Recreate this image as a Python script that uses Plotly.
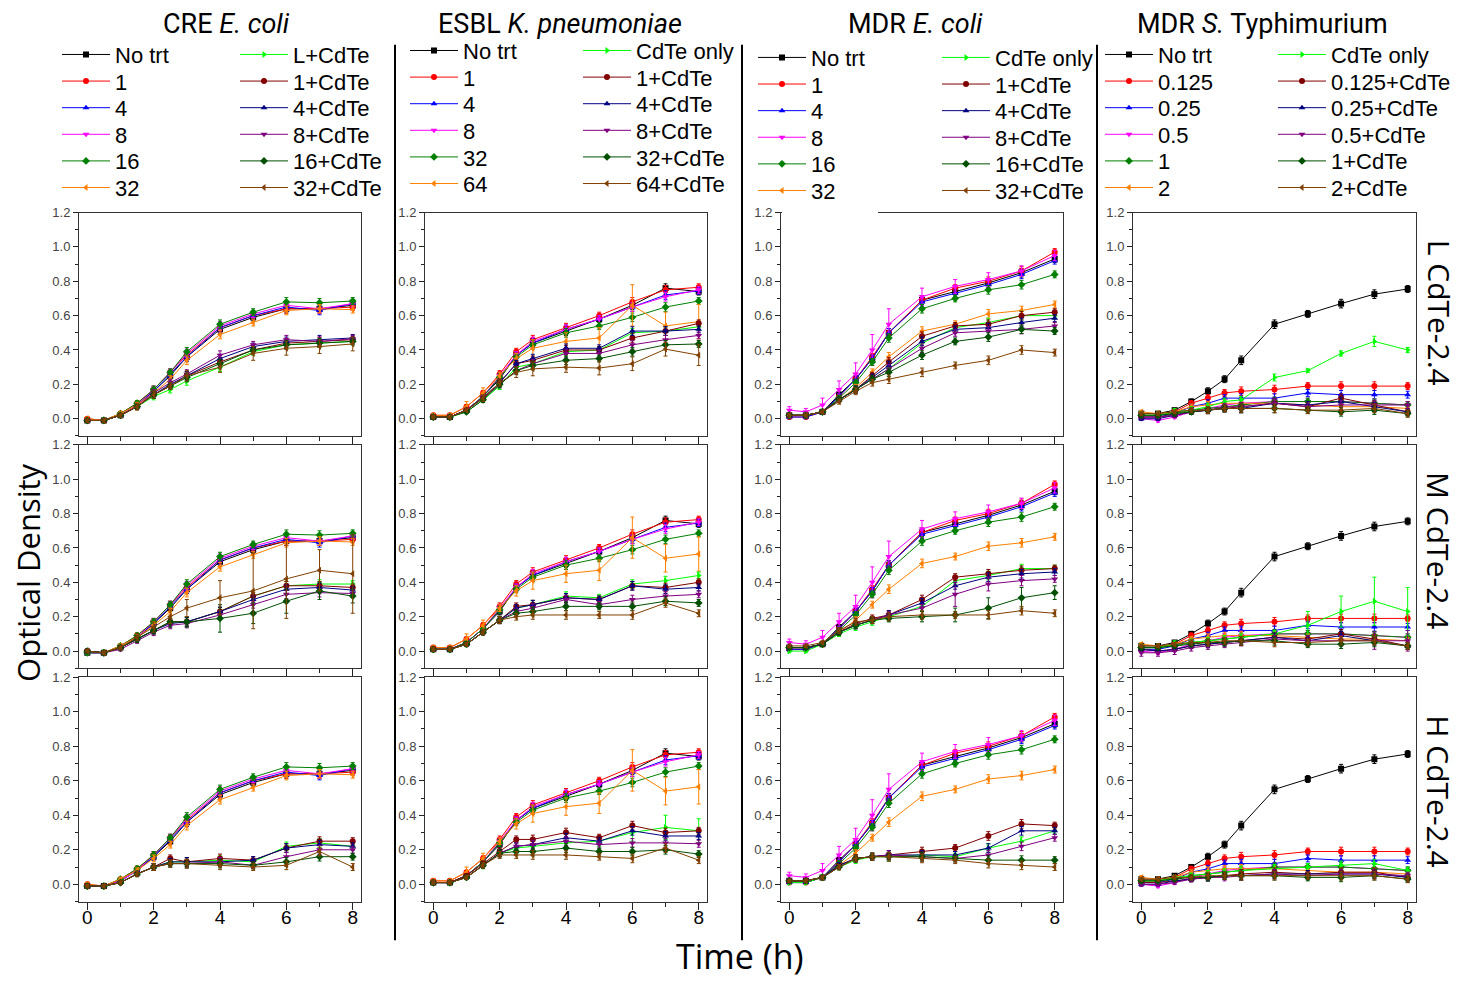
import plotly.graph_objects as go

# ---------------------------------------------------------------- data
TIME_H = [0, 0.5, 1, 1.5, 2, 2.5, 3, 4, 5, 6, 7, 8]

COLUMN_TITLES = ["CRE <i>E. coli</i>", "ESBL <i>K. pneumoniae</i>",
                 "MDR <i>E. coli</i>", "MDR <i>S.</i> Typhimurium"]
ROW_LABELS = ["L CdTe-2.4", "M CdTe-2.4", "H CdTe-2.4"]

# CRE E. coli - antibiotic alone (same curves in every row)
CRE_ABX = {
    "No trt": [-0.01, -0.01, 0.02, 0.08, 0.16, 0.25, 0.36, 0.52, 0.59, 0.64, 0.64, 0.66],
    "1":      [0.00, -0.01, 0.03, 0.09, 0.17, 0.27, 0.37, 0.53, 0.60, 0.64, 0.64, 0.65],
    "4":      [-0.01, -0.01, 0.02, 0.08, 0.16, 0.26, 0.36, 0.53, 0.60, 0.65, 0.63, 0.67],
    "8":      [-0.01, -0.01, 0.02, 0.08, 0.17, 0.27, 0.38, 0.54, 0.61, 0.66, 0.64, 0.67],
    "16":     [-0.01, -0.01, 0.03, 0.09, 0.17, 0.27, 0.39, 0.55, 0.62, 0.68, 0.675, 0.685],
    "32":     [0.00, -0.01, 0.03, 0.08, 0.15, 0.23, 0.34, 0.49, 0.56, 0.63, 0.64, 0.635],
}
CRE_CDTE_L = {
    "L+CdTe":   [-0.01, -0.01, 0.02, 0.07, 0.13, 0.17, 0.22, 0.30, 0.39, 0.43, 0.44, 0.45],
    "1+CdTe":   [-0.01, -0.01, 0.02, 0.07, 0.14, 0.19, 0.25, 0.33, 0.40, 0.44, 0.45, 0.46],
    "4+CdTe":   [-0.01, -0.01, 0.02, 0.07, 0.14, 0.20, 0.25, 0.35, 0.42, 0.45, 0.46, 0.47],
    "8+CdTe":   [-0.01, -0.01, 0.02, 0.07, 0.15, 0.21, 0.26, 0.37, 0.43, 0.46, 0.45, 0.465],
    "16+CdTe":  [-0.01, -0.01, 0.02, 0.07, 0.14, 0.19, 0.24, 0.32, 0.40, 0.43, 0.44, 0.45],
    "32+CdTe":  [-0.01, -0.01, 0.02, 0.07, 0.14, 0.19, 0.25, 0.30, 0.38, 0.41, 0.42, 0.435],
}
CRE_CDTE_M = {
    "L+CdTe":   [0.00, -0.01, 0.02, 0.07, 0.12, 0.17, 0.17, 0.23, 0.32, 0.38, 0.39, 0.39],
    "1+CdTe":   [0.00, -0.01, 0.02, 0.07, 0.12, 0.17, 0.17, 0.23, 0.32, 0.38, 0.38, 0.37],
    "4+CdTe":   [0.00, -0.01, 0.02, 0.07, 0.12, 0.16, 0.17, 0.23, 0.30, 0.36, 0.37, 0.355],
    "8+CdTe":   [0.00, -0.01, 0.01, 0.06, 0.11, 0.15, 0.16, 0.21, 0.27, 0.33, 0.34, 0.335],
    "16+CdTe":  [0.00, -0.01, 0.02, 0.07, 0.12, 0.17, 0.17, 0.19, 0.22, 0.29, 0.35, 0.32],
    "32+CdTe":  [0.00, -0.01, 0.02, 0.08, 0.14, 0.20, 0.25, 0.31, 0.35, 0.42, 0.47, 0.45],
}
CRE_CDTE_H = {
    "L+CdTe":   [-0.01, -0.01, 0.01, 0.06, 0.10, 0.13, 0.13, 0.14, 0.13, 0.22, 0.24, 0.22],
    "1+CdTe":   [-0.01, -0.01, 0.01, 0.06, 0.10, 0.15, 0.13, 0.15, 0.14, 0.21, 0.25, 0.25],
    "4+CdTe":   [-0.01, -0.01, 0.01, 0.06, 0.10, 0.13, 0.13, 0.13, 0.14, 0.21, 0.23, 0.22],
    "8+CdTe":   [-0.01, -0.01, 0.01, 0.06, 0.10, 0.12, 0.12, 0.13, 0.11, 0.16, 0.20, 0.20],
    "16+CdTe":  [-0.01, -0.01, 0.01, 0.06, 0.10, 0.12, 0.12, 0.12, 0.11, 0.13, 0.16, 0.16],
    "32+CdTe":  [-0.01, -0.01, 0.01, 0.06, 0.10, 0.12, 0.12, 0.11, 0.10, 0.11, 0.19, 0.10],
}

# ESBL K. pneumoniae
KPN_ABX = {
    "No trt": [0.01, 0.01, 0.05, 0.13, 0.23, 0.37, 0.44, 0.51, 0.58, 0.66, 0.76, 0.74],
    "1":      [0.02, 0.02, 0.07, 0.15, 0.26, 0.39, 0.46, 0.53, 0.60, 0.68, 0.75, 0.765],
    "4":      [0.01, 0.01, 0.05, 0.13, 0.24, 0.37, 0.44, 0.52, 0.58, 0.65, 0.72, 0.745],
    "8":      [0.01, 0.01, 0.05, 0.13, 0.25, 0.37, 0.45, 0.52, 0.58, 0.65, 0.71, 0.75],
    "32":     [0.01, 0.01, 0.05, 0.13, 0.24, 0.36, 0.43, 0.50, 0.54, 0.59, 0.65, 0.685],
    "64":     [0.02, 0.02, 0.07, 0.15, 0.25, 0.35, 0.41, 0.45, 0.47, 0.66, 0.54, 0.565],
}
KPN_CDTE_L = {
    "CdTe only": [0.01, 0.01, 0.04, 0.11, 0.19, 0.30, 0.32, 0.39, 0.40, 0.50, 0.51, 0.535],
    "1+CdTe":    [0.01, 0.01, 0.05, 0.12, 0.21, 0.32, 0.34, 0.40, 0.40, 0.47, 0.51, 0.555],
    "4+CdTe":    [0.01, 0.01, 0.05, 0.12, 0.21, 0.32, 0.35, 0.41, 0.41, 0.51, 0.51, 0.52],
    "8+CdTe":    [0.01, 0.01, 0.05, 0.12, 0.20, 0.28, 0.32, 0.38, 0.38, 0.43, 0.46, 0.485],
    "32+CdTe":   [0.01, 0.01, 0.04, 0.11, 0.20, 0.28, 0.31, 0.34, 0.35, 0.39, 0.43, 0.435],
    "64+CdTe":   [0.01, 0.01, 0.05, 0.12, 0.21, 0.27, 0.29, 0.30, 0.295, 0.32, 0.405, 0.37],
}
KPN_CDTE_M = {
    "CdTe only": [0.01, 0.01, 0.04, 0.11, 0.18, 0.25, 0.27, 0.32, 0.31, 0.39, 0.41, 0.44],
    "1+CdTe":    [0.01, 0.01, 0.04, 0.11, 0.18, 0.26, 0.27, 0.31, 0.30, 0.38, 0.37, 0.40],
    "4+CdTe":    [0.01, 0.01, 0.04, 0.11, 0.18, 0.25, 0.27, 0.31, 0.30, 0.38, 0.36, 0.37],
    "8+CdTe":    [0.01, 0.01, 0.04, 0.11, 0.18, 0.23, 0.25, 0.30, 0.27, 0.30, 0.32, 0.33],
    "32+CdTe":   [0.01, 0.01, 0.04, 0.11, 0.18, 0.22, 0.23, 0.26, 0.26, 0.26, 0.29, 0.28],
    "64+CdTe":   [0.01, 0.01, 0.04, 0.11, 0.18, 0.20, 0.21, 0.21, 0.21, 0.21, 0.28, 0.22],
}
KPN_CDTE_H = {
    "CdTe only": [0.01, 0.01, 0.04, 0.11, 0.18, 0.21, 0.22, 0.24, 0.25, 0.30, 0.33, 0.31],
    "1+CdTe":    [0.01, 0.01, 0.05, 0.12, 0.19, 0.26, 0.26, 0.30, 0.27, 0.34, 0.30, 0.31],
    "4+CdTe":    [0.01, 0.01, 0.04, 0.11, 0.18, 0.22, 0.23, 0.27, 0.25, 0.31, 0.28, 0.28],
    "8+CdTe":    [0.01, 0.01, 0.04, 0.11, 0.18, 0.22, 0.23, 0.25, 0.23, 0.24, 0.24, 0.235],
    "32+CdTe":   [0.01, 0.01, 0.04, 0.11, 0.18, 0.19, 0.19, 0.21, 0.19, 0.19, 0.20, 0.175],
    "64+CdTe":   [0.01, 0.01, 0.04, 0.11, 0.17, 0.17, 0.17, 0.17, 0.16, 0.15, 0.21, 0.14],
}

# MDR E. coli
MEC_ABX = {
    "No trt": [0.02, 0.02, 0.04, 0.14, 0.23, 0.35, 0.50, 0.69, 0.74, 0.79, 0.85, 0.93],
    "1":      [0.01, 0.01, 0.04, 0.13, 0.23, 0.36, 0.50, 0.69, 0.76, 0.80, 0.86, 0.97],
    "4":      [0.01, 0.01, 0.04, 0.13, 0.23, 0.35, 0.50, 0.68, 0.73, 0.78, 0.84, 0.92],
    "8":      [0.05, 0.04, 0.08, 0.17, 0.26, 0.40, 0.55, 0.71, 0.77, 0.81, 0.86, 0.95],
    "16":     [0.02, 0.02, 0.04, 0.12, 0.21, 0.33, 0.47, 0.64, 0.70, 0.75, 0.78, 0.84],
    "32":     [0.02, 0.02, 0.04, 0.11, 0.18, 0.27, 0.36, 0.51, 0.55, 0.61, 0.63, 0.665],
}
MEC_CDTE_L = {
    "CdTe only": [0.02, 0.02, 0.04, 0.11, 0.17, 0.23, 0.29, 0.44, 0.53, 0.56, 0.60, 0.60],
    "1+CdTe":    [0.02, 0.02, 0.04, 0.11, 0.17, 0.25, 0.33, 0.48, 0.54, 0.55, 0.60, 0.62],
    "4+CdTe":    [0.02, 0.02, 0.04, 0.11, 0.17, 0.24, 0.31, 0.45, 0.52, 0.53, 0.56, 0.585],
    "8+CdTe":    [0.02, 0.02, 0.04, 0.11, 0.17, 0.23, 0.29, 0.41, 0.50, 0.51, 0.52, 0.54],
    "16+CdTe":   [0.02, 0.02, 0.04, 0.11, 0.17, 0.23, 0.27, 0.37, 0.45, 0.475, 0.52, 0.51],
    "32+CdTe":   [0.02, 0.02, 0.04, 0.10, 0.16, 0.21, 0.23, 0.27, 0.31, 0.34, 0.40, 0.385],
}
MEC_CDTE_M = {
    "CdTe only": [0.00, 0.00, 0.04, 0.10, 0.14, 0.17, 0.20, 0.26, 0.41, 0.44, 0.48, 0.48],
    "1+CdTe":    [0.02, 0.02, 0.04, 0.11, 0.16, 0.19, 0.21, 0.30, 0.43, 0.45, 0.47, 0.48],
    "4+CdTe":    [0.02, 0.02, 0.04, 0.11, 0.15, 0.18, 0.21, 0.28, 0.38, 0.43, 0.45, 0.46],
    "8+CdTe":    [0.02, 0.02, 0.04, 0.11, 0.15, 0.18, 0.21, 0.25, 0.33, 0.39, 0.41, 0.42],
    "16+CdTe":   [0.02, 0.02, 0.04, 0.11, 0.15, 0.18, 0.19, 0.20, 0.21, 0.25, 0.31, 0.34],
    "32+CdTe":   [0.03, 0.03, 0.05, 0.12, 0.17, 0.18, 0.20, 0.21, 0.21, 0.21, 0.235, 0.22],
}
MEC_CDTE_H = {
    "CdTe only": [0.01, 0.01, 0.04, 0.10, 0.14, 0.16, 0.16, 0.17, 0.16, 0.21, 0.25, 0.31],
    "1+CdTe":    [0.02, 0.02, 0.04, 0.11, 0.15, 0.16, 0.17, 0.19, 0.21, 0.28, 0.35, 0.34],
    "4+CdTe":    [0.02, 0.02, 0.04, 0.11, 0.15, 0.16, 0.17, 0.17, 0.17, 0.21, 0.31, 0.31],
    "8+CdTe":    [0.02, 0.02, 0.04, 0.10, 0.15, 0.16, 0.17, 0.16, 0.15, 0.17, 0.22, 0.27],
    "16+CdTe":   [0.02, 0.02, 0.04, 0.10, 0.15, 0.16, 0.16, 0.16, 0.15, 0.14, 0.14, 0.14],
    "32+CdTe":   [0.02, 0.02, 0.04, 0.10, 0.15, 0.16, 0.16, 0.15, 0.14, 0.12, 0.11, 0.10],
}

# MDR S. Typhimurium
STM_ABX = {
    "No trt": [0.03, 0.03, 0.05, 0.10, 0.16, 0.23, 0.34, 0.55, 0.61, 0.67, 0.725, 0.755],
    "0.125":  [0.02, 0.02, 0.04, 0.09, 0.12, 0.15, 0.16, 0.17, 0.19, 0.19, 0.19, 0.19],
    "0.25":   [0.01, 0.01, 0.03, 0.07, 0.09, 0.12, 0.12, 0.12, 0.15, 0.14, 0.14, 0.14],
    "0.5":    [0.00, -0.01, 0.01, 0.04, 0.06, 0.08, 0.09, 0.10, 0.10, 0.10, 0.09, 0.08],
    "1":      [0.02, 0.02, 0.03, 0.05, 0.06, 0.07, 0.08, 0.10, 0.10, 0.10, 0.09, 0.08],
    "2":      [0.04, 0.03, 0.04, 0.07, 0.08, 0.09, 0.09, 0.09, 0.08, 0.07, 0.07, 0.06],
}
STM_CDTE_L = {
    "CdTe only":  [0.02, 0.02, 0.04, 0.05, 0.07, 0.10, 0.11, 0.24, 0.28, 0.38, 0.45, 0.40],
    "0.125+CdTe": [0.01, 0.01, 0.02, 0.04, 0.05, 0.06, 0.07, 0.09, 0.07, 0.12, 0.08, 0.04],
    "0.25+CdTe":  [0.00, 0.00, 0.02, 0.04, 0.05, 0.06, 0.06, 0.09, 0.08, 0.10, 0.07, 0.04],
    "0.5+CdTe":   [0.01, 0.01, 0.02, 0.04, 0.05, 0.07, 0.07, 0.09, 0.07, 0.08, 0.08, 0.08],
    "1+CdTe":     [0.02, 0.02, 0.03, 0.04, 0.05, 0.06, 0.06, 0.06, 0.05, 0.04, 0.05, 0.03],
    "2+CdTe":     [0.03, 0.03, 0.04, 0.05, 0.05, 0.06, 0.06, 0.06, 0.05, 0.05, 0.06, 0.03],
}
STM_CDTE_M = {
    "CdTe only":  [0.02, 0.02, 0.04, 0.05, 0.06, 0.07, 0.08, 0.10, 0.15, 0.23, 0.29, 0.23],
    "0.125+CdTe": [0.01, 0.00, 0.01, 0.03, 0.04, 0.05, 0.06, 0.08, 0.07, 0.10, 0.07, 0.03],
    "0.25+CdTe":  [0.01, 0.00, 0.01, 0.03, 0.04, 0.05, 0.06, 0.08, 0.06, 0.09, 0.06, 0.03],
    "0.5+CdTe":   [-0.01, -0.01, 0.00, 0.02, 0.03, 0.04, 0.05, 0.07, 0.06, 0.06, 0.06, 0.06],
    "1+CdTe":     [0.02, 0.02, 0.03, 0.04, 0.05, 0.05, 0.06, 0.06, 0.04, 0.04, 0.05, 0.03],
    "2+CdTe":     [0.03, 0.03, 0.04, 0.05, 0.05, 0.06, 0.06, 0.05, 0.05, 0.06, 0.06, 0.03],
}
STM_CDTE_H = {
    "CdTe only":  [0.02, 0.02, 0.04, 0.05, 0.06, 0.07, 0.08, 0.09, 0.10, 0.11, 0.12, 0.08],
    "0.125+CdTe": [0.01, 0.01, 0.02, 0.03, 0.04, 0.05, 0.06, 0.07, 0.06, 0.07, 0.07, 0.04],
    "0.25+CdTe":  [0.00, 0.00, 0.02, 0.03, 0.04, 0.05, 0.05, 0.06, 0.06, 0.06, 0.06, 0.04],
    "0.5+CdTe":   [0.00, 0.00, 0.01, 0.03, 0.04, 0.04, 0.05, 0.06, 0.05, 0.06, 0.06, 0.05],
    "1+CdTe":     [0.02, 0.02, 0.03, 0.04, 0.04, 0.05, 0.05, 0.05, 0.04, 0.04, 0.05, 0.03],
    "2+CdTe":     [0.03, 0.03, 0.04, 0.04, 0.05, 0.05, 0.05, 0.05, 0.05, 0.05, 0.05, 0.03],
}

# standard deviations: typical replicate spread, plus the noisier series
ERR_TYPICAL = [0.01, 0.01, 0.01, 0.015, 0.02, 0.02, 0.025, 0.025, 0.02, 0.025, 0.025, 0.02]
ERR_NOTABLE = {
    (0, 1, "32+CdTe"): [0.01, 0.01, 0.01, 0.02, 0.03, 0.04, 0.05, 0.10, 0.22, 0.23, 0.12, 0.23],
    (0, 1, "16+CdTe"): [0.01, 0.01, 0.01, 0.02, 0.02, 0.03, 0.03, 0.08, 0.06, 0.07, 0.05, 0.04],
    (0, 0, "32+CdTe"): [0.01, 0.01, 0.01, 0.02, 0.02, 0.02, 0.03, 0.03, 0.04, 0.04, 0.04, 0.04],
    (1, None, "64"):   [0.01, 0.01, 0.03, 0.03, 0.02, 0.03, 0.05, 0.05, 0.06, 0.12, 0.08, 0.10],
    (1, 0, "64+CdTe"): [0.01, 0.01, 0.01, 0.02, 0.02, 0.03, 0.04, 0.03, 0.04, 0.04, 0.04, 0.06],
    (1, 2, "CdTe only"): [0.01, 0.01, 0.01, 0.02, 0.02, 0.03, 0.03, 0.03, 0.03, 0.05, 0.07, 0.07],
    (2, None, "8"):    [0.02, 0.02, 0.04, 0.05, 0.065, 0.09, 0.09, 0.05, 0.04, 0.04, 0.03, 0.03],
    (2, 1, "16+CdTe"): [0.01, 0.01, 0.01, 0.02, 0.02, 0.02, 0.02, 0.03, 0.04, 0.06, 0.06, 0.04],
    (2, 1, "8+CdTe"):  [0.01, 0.01, 0.01, 0.02, 0.02, 0.02, 0.02, 0.02, 0.07, 0.04, 0.03, 0.02],
    (3, 0, "CdTe only"): [0.02, 0.02, 0.02, 0.02, 0.02, 0.02, 0.02, 0.02, 0.01, 0.015, 0.03, 0.015],
    (3, 1, "CdTe only"): [0.02, 0.02, 0.02, 0.02, 0.02, 0.02, 0.02, 0.02, 0.08, 0.09, 0.14, 0.14],
    (3, 1, "0.5+CdTe"):  [0.02, 0.02, 0.02, 0.02, 0.02, 0.02, 0.02, 0.02, 0.03, 0.03, 0.05, 0.06],
}

COLUMNS = [
    (CRE_ABX, [CRE_CDTE_L, CRE_CDTE_M, CRE_CDTE_H]),
    (KPN_ABX, [KPN_CDTE_L, KPN_CDTE_M, KPN_CDTE_H]),
    (MEC_ABX, [MEC_CDTE_L, MEC_CDTE_M, MEC_CDTE_H]),
    (STM_ABX, [STM_CDTE_L, STM_CDTE_M, STM_CDTE_H]),
]

# ---------------------------------------------------------------- styles
ABX_STYLE = [("#000000", "square"), ("#FF0000", "circle"), ("#0000FF", "triangle-up"),
             ("#FF00FF", "triangle-down"), ("#008000", "diamond"), ("#FF8000", "triangle-left")]
CDTE_STYLE = [("#00FF00", "triangle-right"), ("#800000", "circle"), ("#000080", "triangle-up"),
              ("#800080", "triangle-down"), ("#005000", "diamond"), ("#804000", "triangle-left")]

W, H = 1461, 981
COL_PX = [(79, 361), (425, 707), (781, 1063), (1133, 1416)]
ROW_PX = [(207, 432), (441, 666), (675, 901)]
TITLE_X = [227, 560, 915, 1262]
# legend layout per column: swatch start x of the two entry columns, first entry y
LEGEND_X = [(62, 240), (410, 583), (758, 942), (1105, 1278)]
LEGEND_Y0 = [48, 44, 51, 48]
LEGEND_STEP = 26.8

TICK_FONT = "Liberation Sans, Arial, sans-serif"
LABEL_FONT = "Open Sans, Noto Sans, sans-serif"
TITLE_FONT = "Roboto, Liberation Sans, sans-serif"


def px_x(x):
    return x / W


def px_y(y):
    return 1 - y / H


def err_for(c, r, label):
    return ERR_NOTABLE.get((c, r, label), ERR_NOTABLE.get((c, None, label), ERR_TYPICAL))


def legend_key(n):
    return "legend" if n == 1 else f"legend{n}"


fig = go.Figure()
layout = dict(
    width=W, height=H, margin=dict(l=0, r=0, t=0, b=0),
    paper_bgcolor="white", plot_bgcolor="white", showlegend=True,
)


def add_series(k, legend_id, label, values, style, err, show):
    color, symbol = style
    fig.add_trace(go.Scatter(
        x=TIME_H, y=values, name=label, mode="lines+markers",
        xaxis=f"x{k}", yaxis=f"y{k}", legend=legend_id, showlegend=show,
        line=dict(color=color, width=1),
        marker=dict(color=color, symbol=symbol, size=6, line=dict(width=0)),
        error_y=dict(type="data", array=err, thickness=1, width=2, color=color),
        hoverinfo="name+x+y",
    ))


for c, (abx, cdte_rows) in enumerate(COLUMNS):
    for r, cdte in enumerate(cdte_rows):
        k = r * 4 + c + 1
        groups = ((0, abx, ABX_STYLE), (1, cdte, CDTE_STYLE))
        for j, series, styles in groups:
            for i, (label, vals) in enumerate(series.items()):
                n = c * 12 + j * 6 + i + 1
                add_series(k, legend_key(n), label, vals, styles[i],
                           err_for(c, r, label), r == 0)

        x0, x1 = COL_PX[c]
        y0, y1 = ROW_PX[r]
        suffix = "" if k == 1 else str(k)
        layout["xaxis" + suffix] = dict(
            domain=[px_x(x0), px_x(x1)], anchor=f"y{k}", range=[-0.25, 8.25],
            tickvals=[0, 2, 4, 6, 8], ticks="outside", ticklen=7, tickwidth=1,
            tickcolor="#222", showline=True, linecolor="#333", linewidth=1, mirror=True,
            showgrid=False, zeroline=False, showticklabels=(r == 2),
            ticklabelstandoff=-8,
            tickfont=dict(family=TICK_FONT, size=19, color="#000"),
            minor=dict(dtick=1, tick0=0, ticks="outside", ticklen=4, tickcolor="#222"),
        )
        layout["yaxis" + suffix] = dict(
            domain=[px_y(y1), px_y(y0)], anchor=f"x{k}", range=[-0.1, 1.2],
            tickvals=[0, 0.2, 0.4, 0.6, 0.8, 1.0, 1.2], tickformat=".1f",
            ticks="outside", ticklen=5, tickwidth=1, tickcolor="#222",
            showline=True, linecolor="#333", linewidth=1, mirror=True,
            showgrid=False, zeroline=False,
            tickfont=dict(family=TICK_FONT, size=13, color="#444"),
            minor=dict(dtick=0.1, tick0=0, ticks="outside", ticklen=3, tickcolor="#222"),
        )

# one single-entry legend per series so every entry sits on its own row
for c in range(4):
    for j in range(2):
        for i in range(6):
            n = c * 12 + j * 6 + i + 1
            layout[legend_key(n)] = dict(
                x=px_x(LEGEND_X[c][j] - 5), y=px_y(LEGEND_Y0[c] + i * LEGEND_STEP),
                xanchor="left", yanchor="middle", xref="paper", yref="paper",
                bgcolor="rgba(0,0,0,0)", borderwidth=0,
                font=dict(family=TICK_FONT, size=22, color="#000"),
                itemwidth=48, tracegroupgap=0,
            )

annotations = []
for c, title in enumerate(COLUMN_TITLES):
    annotations.append(dict(
        text=title, x=px_x(TITLE_X[c]), y=1, xref="paper", yref="paper",
        showarrow=False, xanchor="center", yanchor="top", borderpad=0,
        font=dict(family=TITLE_FONT, size=27, color="#000")))
ROW_LABEL_Y = [308, 547, 790]
for r, lab in enumerate(ROW_LABELS):
    annotations.append(dict(
        text=lab, x=px_x(1439), y=px_y(ROW_LABEL_Y[r]), xref="paper", yref="paper",
        showarrow=False, textangle=90, xanchor="center", yanchor="middle",
        font=dict(family=LABEL_FONT, size=30, color="#000")))
annotations.append(dict(
    text="Optical Density", x=px_x(28), y=px_y(570), xref="paper", yref="paper",
    showarrow=False, textangle=-90, xanchor="center", yanchor="middle",
    font=dict(family=LABEL_FONT, size=31, color="#000")))
annotations.append(dict(
    text="Time (h)", x=px_x(740), y=px_y(956), xref="paper", yref="paper",
    showarrow=False, xanchor="center", yanchor="middle",
    font=dict(family=LABEL_FONT, size=34, color="#000")))
layout["annotations"] = annotations

shapes = []
for xd in (395, 742, 1097):
    shapes.append(dict(type="line", xref="paper", yref="paper",
                       x0=px_x(xd), x1=px_x(xd), y0=px_y(38), y1=px_y(940),
                       line=dict(color="#000", width=2)))
# white backing behind the MDR E. coli legend where it overlaps the frame
shapes.append(dict(type="rect", xref="paper", yref="paper", layer="above",
                   x0=px_x(782), x1=px_x(878), y0=px_y(211), y1=px_y(203),
                   fillcolor="white", line=dict(width=0)))
layout["shapes"] = shapes

fig.update_layout(**layout)
fig.write_html("out.html")
